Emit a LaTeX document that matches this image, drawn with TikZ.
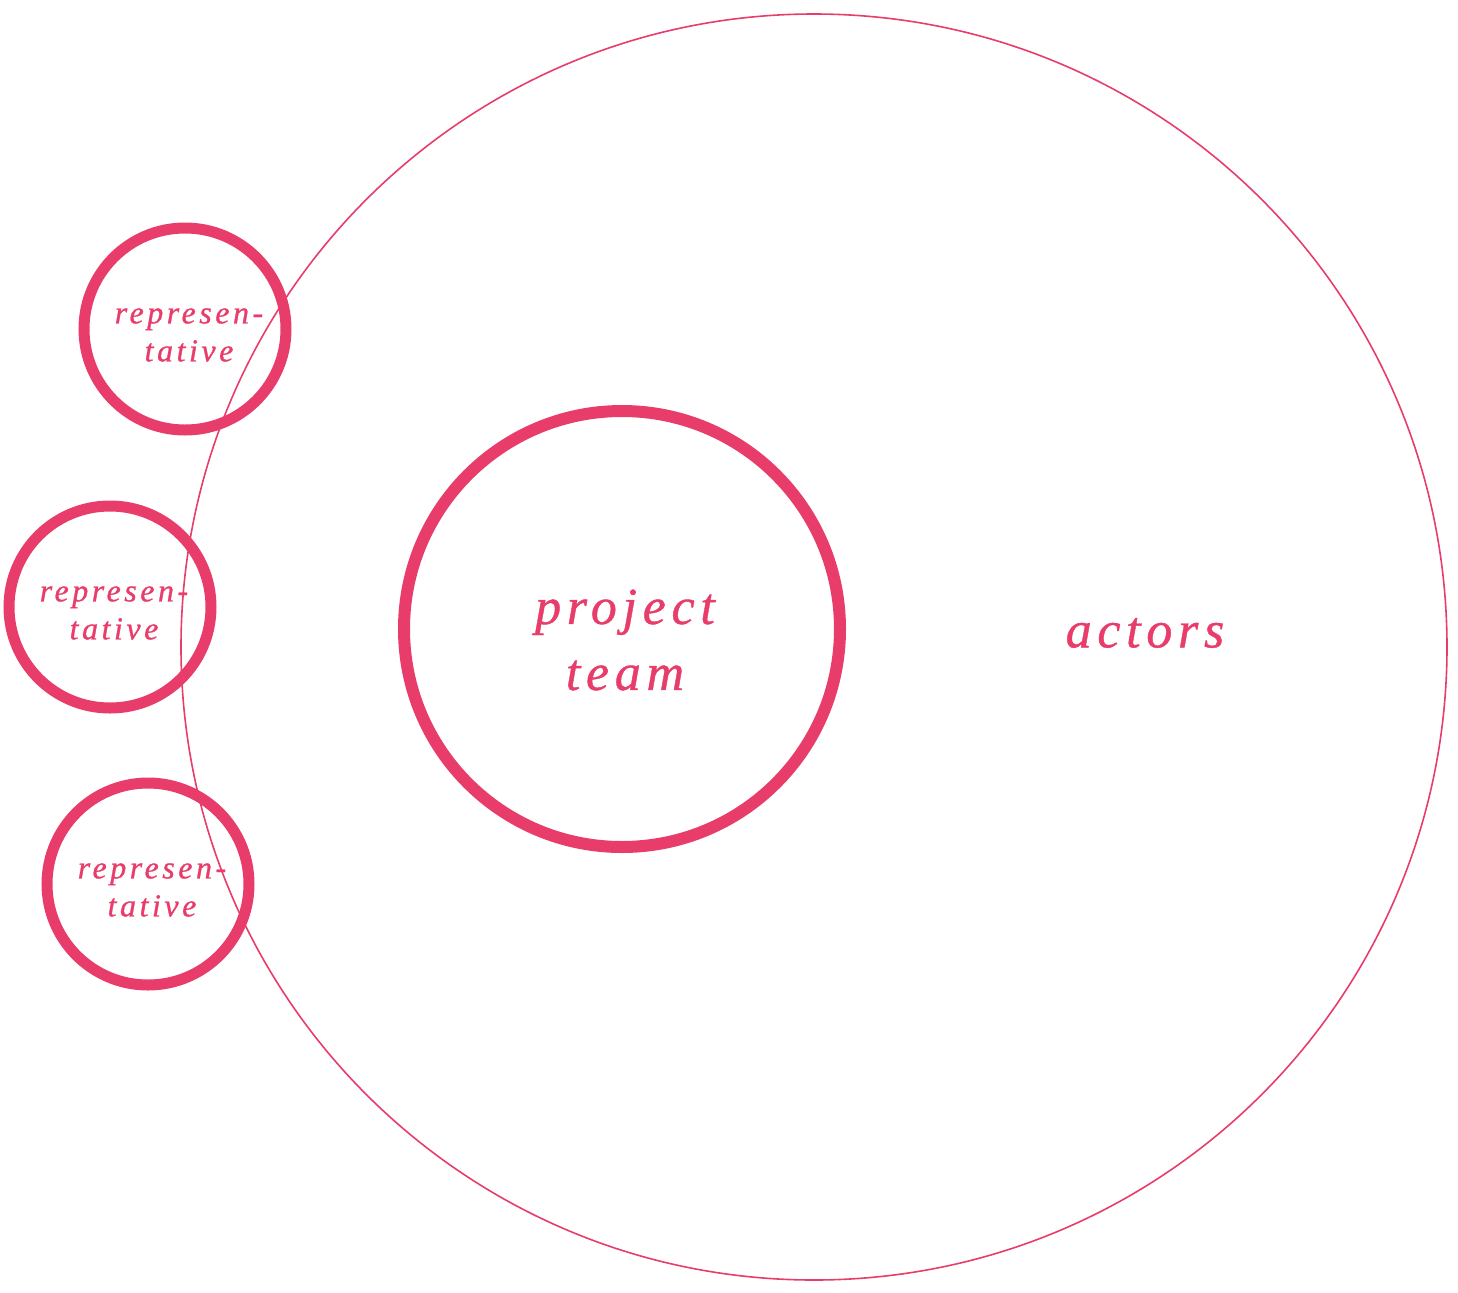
\documentclass[tikz,border=0pt]{standalone}
\usepackage{fontspec}
\usepackage{tikz}
\usetikzlibrary{positioning}
\newfontfamily\lblfont[LetterSpace=11,FakeBold=0.8]{Liberation Serif}
\definecolor{rosa}{HTML}{E83D6A}
\tikzset{
  ring/.style={circle,draw=rosa,line width=5.5pt,inner sep=0pt,text=rosa,align=center},
  repring/.style={ring,minimum size=101pt,font=\lblfont\itshape\fontsize{16}{19}\selectfont},
  bigtext/.style={text=rosa,align=center,font=\lblfont\itshape\fontsize{26}{33}\selectfont},
}
\begin{document}
\begin{tikzpicture}[x=0.5pt,y=-0.5pt]
\useasboundingbox (0,0) rectangle (1458,1292);
%grosser Kreis
\node[circle,draw=rosa,line width=0.8pt,minimum size=633pt,inner sep=0pt] (actorsring) at (814,647) {};
\node[bigtext] (actors) at (1145,633) {actors};
%Team in der Mitte
\node[ring,line width=6pt,minimum size=218pt] (team) at (622,629) {};
\node[bigtext] (teamtext) at (625,640) {project\\team};
%Vertreter
\node[repring] (repA) at (185,329) {};
\node[repring] (repB) at (110,607) {};
\node[repring] (repC) at (148,884) {};
\foreach \rep/\dx in {repA/4,repB/4,repC/4}
  \node[text=rosa,align=center,font=\lblfont\itshape\fontsize{16}{19}\selectfont] (\rep text) at ([xshift=\dx*0.5pt,yshift=-3pt]\rep.center) {represen-\\tative};
\end{tikzpicture}
\end{document}
